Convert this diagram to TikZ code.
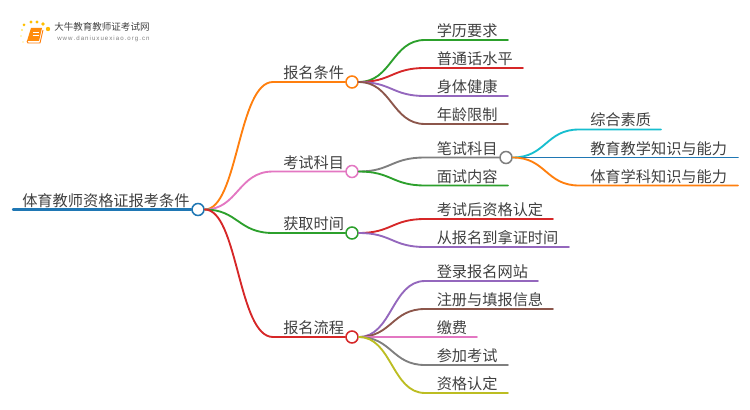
\documentclass[tikz,border=0pt]{standalone}
\usepackage{fontspec}
\setmainfont{Noto Sans CJK SC}
\newfontfamily\latinlogo{Liberation Sans}
\definecolor{cOrange}{HTML}{FF7F0E}
\definecolor{cPink}{HTML}{E377C2}
\definecolor{cGreen}{HTML}{2CA02C}
\definecolor{cRed}{HTML}{D62728}
\definecolor{cBlue}{HTML}{1F77B4}
\definecolor{cPurple}{HTML}{9467BD}
\definecolor{cBrown}{HTML}{8C564B}
\definecolor{cGray}{HTML}{7F7F7F}
\definecolor{cOlive}{HTML}{BCBD22}
\definecolor{cCyan}{HTML}{17BECF}
\definecolor{cText}{HTML}{404040}
\tikzset{
  lab/.style={anchor=base west,inner sep=0pt,text=cText,font=\fontsize{11.4pt}{11.4pt}\selectfont},
  dot/.style={circle,draw=#1,fill=white,line width=1.15pt,minimum size=9pt,inner sep=0pt},
  conn/.style={draw=#1,line width=1.4pt,line cap=round},
  sun/.style={fill=#1,draw=none},
}
\newcommand{\branch}[8]{%
  \coordinate (#2a) at (#5,#4);
  \coordinate (#2b) at (#6,#4);
  \node[lab] (#2) at (#7,#4-3.5) {#8};
  \draw[conn=#3] (#1.east) .. controls ($(#1.east)!0.5!(#1.east -| #2a)$) and ($(#2a)!0.5!(#1.east |- #2a)$) .. (#2a) -- (#2b);
}
\usetikzlibrary{calc}
\begin{document}
\begin{tikzpicture}[x=0.75pt,y=-0.75pt]
\useasboundingbox (0,0) rectangle (750,410);
% logo
\fill[sun=orange!55!yellow] (48,29) circle (2.2);
\fill[sun=orange!50!yellow] (24,25) circle (1.5);
\fill[sun=orange!50!yellow] (31,22) circle (1.6);
\fill[sun=orange!50!yellow] (37,22) circle (1.7);
\fill[sun=orange!50!yellow] (43,24) circle (1.8);
\fill[sun=orange!30!yellow!60] (22,30) circle (1.1);
\fill[sun=orange!30!yellow!50] (21,36) circle (0.9);
\fill[sun=orange!30!yellow!40] (23,42) circle (0.8);
\fill[cOrange!90!yellow] (31,28) -- (42,28) -- (39,41) -- (27,41) -- cycle;
\draw[cOrange,line width=0.7pt] (27,41) -- (28,43) -- (40,43) -- (43,30);
\draw[white,line width=0.5pt] (33,32) -- (39,32) (32.5,35) -- (38.5,35);
\node[anchor=base west,inner sep=0pt,text=cText,font=\fontsize{7.15pt}{7.15pt}\selectfont] (logoT) at (54,30.5) {大牛教育教师证考试网};
\node[anchor=base west,inner sep=0pt,text=cGray,font=\latinlogo\fontsize{4.6pt}{4.6pt}\selectfont] (logoU) at (57,41) {w\,w\,w\,.\,d\,a\,n\,i\,u\,x\,u\,e\,x\,i\,a\,o\,.\,o\,r\,g\,.\,c\,n};
% root
\node[dot=cBlue] (root) at (198,209.5) {};
\coordinate (rootL) at (13,209.5);
\draw[conn=cBlue,line width=1.8pt] (rootL) -- (root.west);
\node[lab] (rootT) at (22,206) {体育教师资格证报考条件};
% level 1
\node[dot=cOrange] (A) at (352,82) {};
\node[dot=cPink] (B) at (352,171.5) {};
\node[dot=cGreen] (C) at (352,233) {};
\node[dot=cRed] (D) at (352,337) {};
\newcommand{\main}[4]{%
  \coordinate (#1c) at (273,#3);
  \node[lab] (#1T) at (283,#3-3.5) {#4};
  \draw[conn=#2] (root.east) .. controls (238,209.5) and (238,#3) .. (#1c) -- (#1.west);
}
\main{A}{cOrange}{82}{报名条件}
\main{B}{cPink}{171.5}{考试科目}
\main{C}{cGreen}{233}{获取时间}
\main{D}{cRed}{337}{报名流程}
% level 2
\branch{A}{a1}{cGreen}{40}{425}{508}{436.5}{学历要求}
\branch{A}{a2}{cRed}{68}{425}{523}{436.5}{普通话水平}
\branch{A}{a3}{cPurple}{96}{425}{508}{436.5}{身体健康}
\branch{A}{a4}{cBrown}{124}{425}{508}{436.5}{年龄限制}
\node[dot=cGray] (W) at (506,157.5) {};
\coordinate (b1a) at (425,157.5);
\node[lab] (b1) at (436.5,154) {笔试科目};
\draw[conn=cGray] (B.east) .. controls (391,171.5) and (391,157.5) .. (b1a) -- (W.west);
\branch{B}{b2}{cGreen}{185.5}{425}{508}{436.5}{面试内容}
\branch{C}{c1}{cRed}{219}{425}{553}{436.5}{考试后资格认定}
\branch{C}{c2}{cPurple}{247}{425}{569}{436.5}{从报名到拿证时间}
\branch{D}{d1}{cPurple}{281}{425}{538}{436.5}{登录报名网站}
\branch{D}{d2}{cBrown}{309}{425}{553}{436.5}{注册与填报信息}
\branch{D}{d3}{cPink}{337}{425}{477}{436.5}{缴费}
\branch{D}{d4}{cGray}{365}{425}{508}{436.5}{参加考试}
\branch{D}{d5}{cOlive}{393}{425}{508}{436.5}{资格认定}
% level 3
\branch{W}{e1}{cCyan}{129.5}{579}{661}{590}{综合素质}
\branch{W}{e2}{cBlue}{157.5}{579}{738}{590}{教育教学知识与能力}
\branch{W}{e3}{cOrange}{185.5}{579}{738}{590}{体育学科知识与能力}
\end{tikzpicture}
\end{document}
